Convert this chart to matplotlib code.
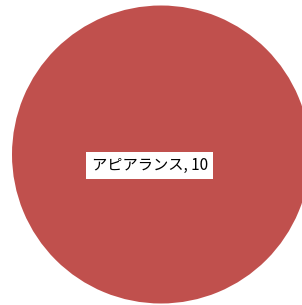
import matplotlib
matplotlib.use("Agg")
from matplotlib import pyplot as plt

categories = ["アピアランス"]
values = [10]
colors = ["#C0504D"]

fig = plt.figure(figsize=(3.02, 3.05), dpi=100)
ax = fig.add_axes([0, 0, 1, 1])

ax.pie(values, colors=colors, startangle=90, counterclock=False, radius=1.0)

ax.set_xlim(-161 / 149, (302 - 161) / 149)
ax.set_ylim(-150.5 / 149, 154.5 / 149)
ax.set_aspect("auto")
ax.axis("off")

label = f"{categories[0]}, {values[0]}"
ax.text(-0.076, -0.074, label, ha="center", va="center", fontsize=11,
        family=["Noto Sans CJK JP", "DejaVu Sans"],
        bbox=dict(facecolor="white", edgecolor="none",
                  boxstyle="square,pad=0.35"))

fig.savefig("out.png", dpi=100)
